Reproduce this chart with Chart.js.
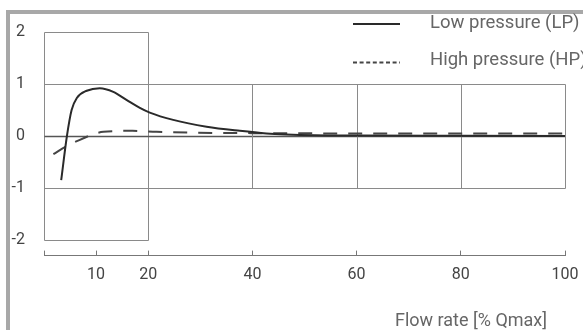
<!DOCTYPE html>
<html>
<head>
<meta charset="utf-8">
<script src="https://cdn.jsdelivr.net/npm/chart.js@4.4.0/dist/chart.umd.min.js"></script>
<style>
  html, body { margin: 0; padding: 0; background: #fff; }
  #wrap { position: relative; width: 583px; height: 330px; overflow: hidden; }
  #frame { position: absolute; left: 6px; top: 10px; width: 600px; height: 340px;
           border-top: 4px solid #a8a8a8; border-left: 4px solid #a8a8a8; }
  #flowChart { position: relative; }
</style>
</head>
<body>
<div id="wrap">
  <div id="frame"></div>
  <canvas id="flowChart"></canvas>
</div>
<script>
// values
const lpFlow = [3.3, 4.4, 5.3, 6.3, 8.2, 10.7, 13.3, 15.9, 18.4, 20.3, 24.8, 31.2, 37.6, 42.7, 46.5, 52, 60, 80, 100];
const lpValues = [-0.85, 0.0, 0.5, 0.73, 0.87, 0.92, 0.85, 0.69, 0.54, 0.45, 0.31, 0.18, 0.10, 0.05, 0.03, 0.015, 0.01, 0.005, 0.0];
const hpFlow = [1.8, 4.4, 6.3, 9.1, 11.4, 17, 21.6, 28, 40, 60, 80, 100];
const hpValues = [-0.35, -0.19, -0.1, 0.02, 0.08, 0.1, 0.08, 0.065, 0.055, 0.05, 0.05, 0.05];

const xTicks = [0, 10, 20, 40, 60, 80, 100];
const yTicks = [-2, -1, 0, 1, 2];
const gridRows = [1, 0, -1];
const gridCols = [40, 60, 80, 100];
const boxCols = [0, 20];
const seriesNames = ['Low pressure (LP)', 'High pressure (HP)'];
const axisTitle = 'Flow rate [% Qmax]';

const crisp = v => Math.round(v) + 0.5;

// the framed grid: tall box over 0-20, short cells over 20-100
const gridPlugin = {
  id: 'frameGrid',
  beforeDatasetsDraw(chart) {
    const { ctx, scales: { x, y } } = chart;
    const line = (x1, y1, x2, y2, color, width) => {
      ctx.strokeStyle = color || '#8a8a8a';
      ctx.lineWidth = width || 1;
      ctx.beginPath();
      ctx.moveTo(crisp(x1), crisp(y1));
      ctx.lineTo(crisp(x2), crisp(y2));
      ctx.stroke();
    };
    ctx.save();
    const bx1 = x.getPixelForValue(boxCols[0]);
    const bx2 = x.getPixelForValue(boxCols[1]);
    const top = y.getPixelForValue(yTicks[yTicks.length - 1]);
    const bottom = y.getPixelForValue(yTicks[0]);
    line(bx1, top, bx2, top);
    line(bx1, bottom, bx2, bottom);
    line(bx1, top, bx1, bottom);
    line(bx2, top, bx2, bottom);
    gridRows.forEach(v => {
      const py = y.getPixelForValue(v);
      line(bx1, py, x.getPixelForValue(xTicks[xTicks.length - 1]), py, v === 0 ? '#555' : '#8a8a8a', v === 0 ? 1.5 : 1);
    });
    gridCols.forEach(v => {
      const px = x.getPixelForValue(v);
      line(px, y.getPixelForValue(gridRows[0]), px, y.getPixelForValue(gridRows[gridRows.length - 1]));
    });
    ctx.restore();
  }
};

// legend in the top right corner and the axis title under the ticks
const labelPlugin = {
  id: 'cornerLabels',
  afterDraw(chart) {
    const ctx = chart.ctx;
    ctx.save();
    ctx.font = '18.5px Roboto';
    ctx.fillStyle = '#666';
    ctx.textBaseline = 'alphabetic';
    chart.data.datasets.forEach((ds, i) => {
      const ly = 24 + i * 38.5;
      ctx.strokeStyle = ds.borderColor;
      ctx.lineWidth = 2;
      ctx.setLineDash(i ? [4, 2.6] : []);
      ctx.beginPath();
      ctx.moveTo(353, ly);
      ctx.lineTo(400, ly);
      ctx.stroke();
      ctx.fillText(ds.label, 430, 28 + i * 37);
    });
    ctx.setLineDash([]);
    ctx.textAlign = 'center';
    ctx.font = '18px Roboto';
    ctx.fillText(axisTitle, 471, 326);
    ctx.restore();
  }
};

const ctx = document.getElementById('flowChart');
new Chart(ctx, {
  type: 'line',
  data: {
    datasets: [
      {
        label: seriesNames[0],
        data: lpFlow.map((f, i) => ({ x: f, y: lpValues[i] })),
        borderColor: '#2a2a2a',
        borderWidth: 2,
        pointRadius: 0,
        cubicInterpolationMode: 'monotone',
        fill: false,
      },
      {
        label: seriesNames[1],
        data: hpFlow.map((f, i) => ({ x: f, y: hpValues[i] })),
        borderColor: '#454545',
        borderWidth: 2,
        borderDash: [14, 11],
        pointRadius: 0,
        cubicInterpolationMode: 'monotone',
        fill: false,
      },
    ],
  },
  options: {
    responsive: true,
    maintainAspectRatio: false,
    animation: false,
    layout: { padding: { top: 32, right: 18, left: 0, bottom: 0 } },
    plugins: {
      legend: { display: false },
      tooltip: { enabled: false },
    },
    scales: {
      x: {
        type: 'linear',
        min: 0,
        max: 100,
        afterBuildTicks: scale => { scale.ticks = xTicks.map(v => ({ value: v })); },
        afterFit: scale => {
          scale.height = 74.4;
          scale.paddingLeft = 0;
          scale.paddingRight = 18;
        },
        grid: {
          display: true,
          drawOnChartArea: false,
          drawTicks: true,
          tickLength: -5,
          tickColor: '#777',
        },
        border: { display: true, color: '#777', width: 1 },
        ticks: {
          padding: 15,
          maxRotation: 0,
          color: '#444',
          font: { family: 'Roboto', size: 16 },
          callback: v => (v === 0 ? '' : v),
        },
      },
      y: {
        min: -2.3,
        max: 2,
        afterBuildTicks: scale => { scale.ticks = yTicks.map(v => ({ value: v })); },
        afterFit: scale => { scale.width = 44; },
        grid: { display: false, drawTicks: false },
        border: { display: false },
        ticks: {
          padding: 19,
          color: '#444',
          font: { family: 'Roboto', size: 16 },
        },
      },
    },
  },
  plugins: [gridPlugin, labelPlugin],
});
</script>
</body>
</html>
